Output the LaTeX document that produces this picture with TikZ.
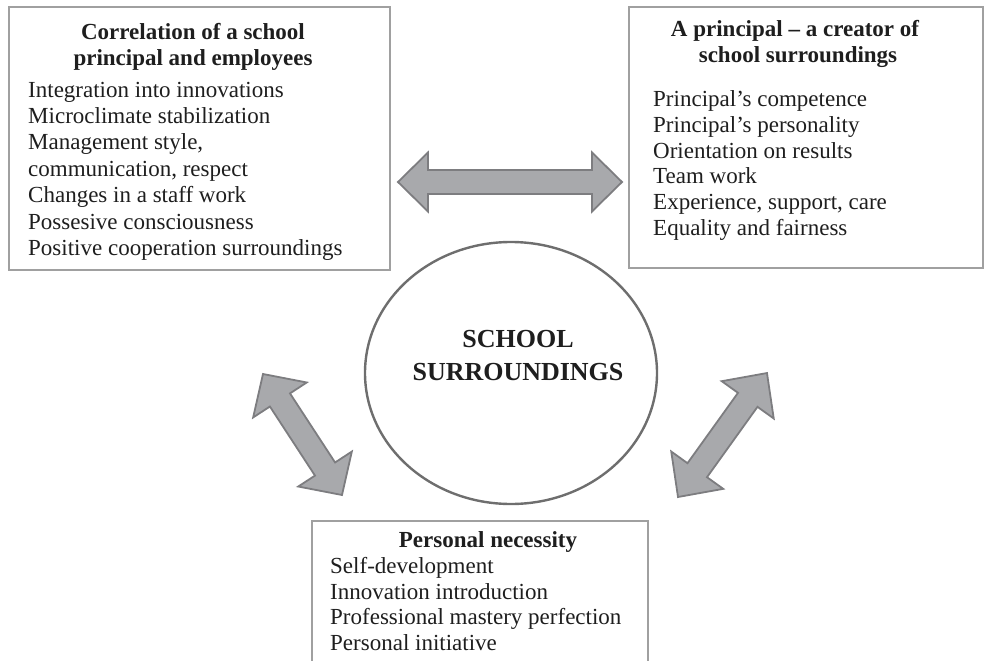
\documentclass[tikz,border=0pt]{standalone}
\usepackage{fontspec}
\setmainfont{Liberation Serif}
\usetikzlibrary{shapes.geometric}
\definecolor{boxline}{RGB}{160,160,160}
\definecolor{arrfill}{RGB}{168,169,172}
\definecolor{arrline}{RGB}{125,125,128}
\definecolor{ringline}{RGB}{110,110,110}
\definecolor{ink}{RGB}{30,30,30}
% #1 start, #2 angle, #3 length, #4 head length, #5 head half width
\newcommand\fatarr[5]{%
  \begin{scope}[shift={#1}, rotate=#2]
    \draw[fatarrow] (0,0) -- (#4,#5) -- (#4,12) -- ({#3-#4},12) -- ({#3-#4},#5)
      -- (#3,0) -- ({#3-#4},-#5) -- ({#3-#4},-12) -- (#4,-12) -- (#4,-#5) -- cycle;
  \end{scope}}
\begin{document}
\begin{tikzpicture}[x=1pt,y=-1pt,
  box/.style={draw=boxline, line width=2.6pt, rectangle, inner sep=0pt},
  item/.style={anchor=base west, inner sep=0pt, text=ink, font=\fontsize{23}{26}\selectfont},
  head/.style={anchor=base, inner sep=0pt, text=ink, font=\fontsize{23}{26}\selectfont\bfseries},
  title/.style={anchor=base, inner sep=0pt, text=ink, font=\fontsize{26}{30}\selectfont\bfseries},
  fatarrow/.style={fill=arrfill, draw=arrline, line width=1.8pt, line join=miter}]
\useasboundingbox (0,0) rectangle (985,661);

% boxes
\node[box, minimum width=381pt, minimum height=263pt] (boxA) at (199.5,138.5) {};
\node[box, minimum width=354pt, minimum height=261pt] (boxB) at (806,137.5) {};
\node[box, minimum width=336pt, minimum height=159pt] (boxC) at (480,600.5) {};

% centre ellipse
\node[draw=ringline, line width=2.4pt, ellipse, minimum width=292pt, minimum height=262pt, inner sep=0pt] (core) at (511,373) {};
\node[title] (t1) at (518,347) {SCHOOL};
\node[title] (t2) at (518,380) {SURROUNDINGS};

% fat double arrows
\fatarr{(398,182)}{0}{224}{30}{29.5}
\fatarr{(263,374)}{-56.86}{144.5}{31}{32}
\fatarr{(678,497)}{54.33}{152.6}{33}{32}

% box A text
\node[head] (ah1) at (193,40) {Correlation of a school};
\node[head] (ah2) at (193,66) {principal and employees};
\node[item] (a1) at (28,97) {Integration into innovations};
\node[item] (a2) at (28,123.4) {Microclimate stabilization};
\node[item] (a3) at (28,149.8) {Management style,};
\node[item] (a4) at (28,176.2) {communication, respect};
\node[item] (a5) at (28,202.6) {Changes in a staff work};
\node[item] (a6) at (28,229) {Possesive consciousness};
\node[item] (a7) at (28,255.4) {Positive cooperation surroundings};

% box B text
\node[head] (bh1) at (795,37) {A principal -- a creator of};
\node[head] (bh2) at (798,63) {school surroundings};
\node[item] (b1) at (653,106.5) {Principal’s competence};
\node[item] (b2) at (653,132.3) {Principal’s personality};
\node[item] (b3) at (653,158) {Orientation on results};
\node[item] (b4) at (653,183.9) {Team work};
\node[item] (b5) at (653,209.7) {Experience, support, care};
\node[item] (b6) at (653,235.5) {Equality and fairness};

% box C text
\node[head] (ch1) at (488,547) {Personal necessity};
\node[item] (c1) at (330,573) {Self-development};
\node[item] (c2) at (330,599) {Innovation introduction};
\node[item] (c3) at (330,624.5) {Professional mastery perfection};
\node[item] (c4) at (330,650) {Personal initiative};
\end{tikzpicture}
\end{document}
